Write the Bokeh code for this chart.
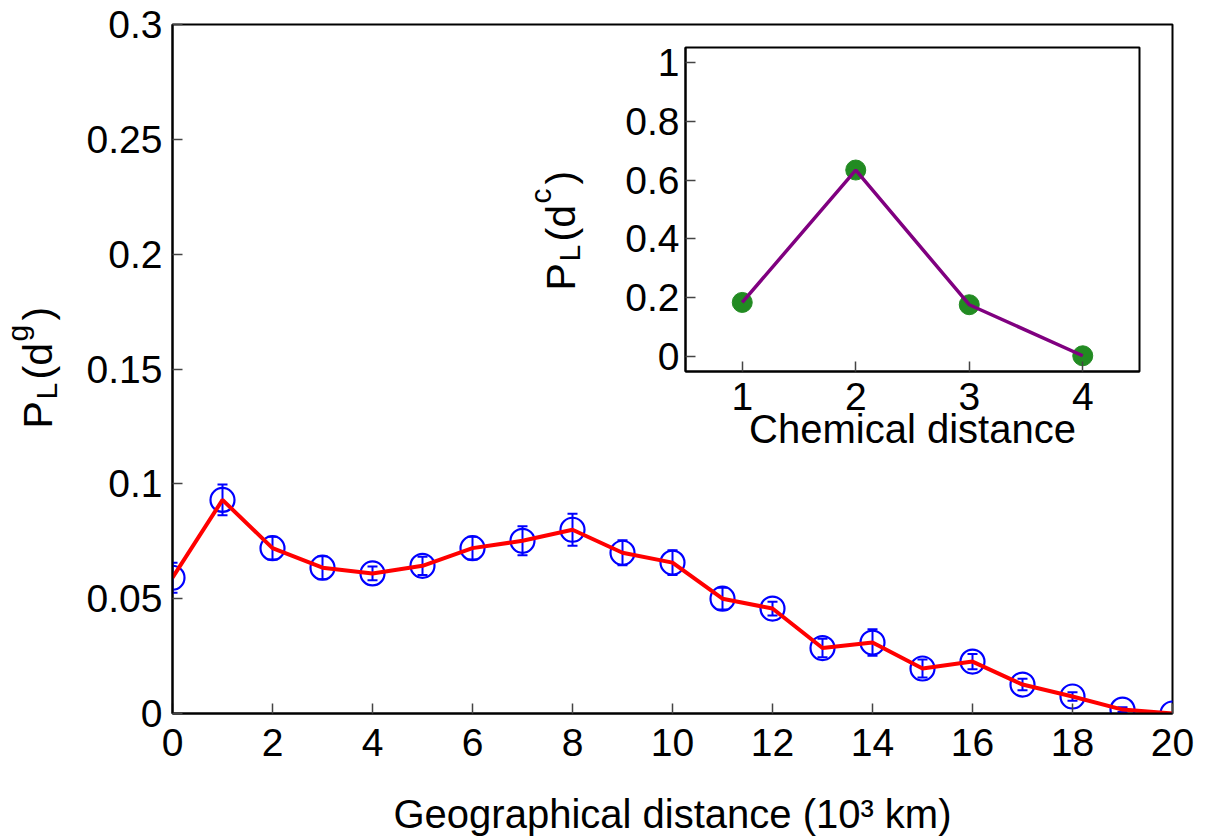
import math
from bokeh.plotting import figure
from bokeh.models import (Range1d, FixedTicker, CustomJSTickFormatter, Whisker,
                          TeeHead, ColumnDataSource)
from bokeh.core.properties import value
from bokeh.layouts import column
from bokeh.embed import file_html
from bokeh.resources import INLINE

# ---------------- data ----------------
geo_dist = list(range(21))
geo_prob = [0.0591, 0.0930, 0.0720, 0.0635, 0.0610, 0.0643, 0.0720, 0.0752,
            0.0800, 0.0700, 0.0657, 0.0500, 0.0457, 0.0285, 0.0309, 0.0196,
            0.0226, 0.0126, 0.0074, 0.0017, 0.0000]
geo_err = [0.0065, 0.0067, 0.0050, 0.0050, 0.0030, 0.0040, 0.0050, 0.0063,
           0.0070, 0.0054, 0.0054, 0.0047, 0.0030, 0.0040, 0.0058, 0.0039,
           0.0033, 0.0025, 0.0018, 0.0010, 0.0000]
x_ticks = list(range(0, 21, 2))
y_ticks = [0, 0.05, 0.1, 0.15, 0.2, 0.25, 0.3]

chem_dist = [1, 2, 3, 4]
chem_prob = [0.1845, 0.634, 0.1767, 0.0034]
chem_x_ticks = [1, 2, 3, 4]
chem_y_ticks = [0, 0.2, 0.4, 0.6, 0.8, 1.0]

FONT = "Liberation Sans"
TICK_FS = "39px"
LAB_FS = "40px"

fmt = CustomJSTickFormatter(code="return String(+tick.toFixed(3));")


def style_axes(fig, tick_standoff_x, tick_standoff_y):
    for ax in list(fig.xaxis) + list(fig.yaxis):
        ax.major_tick_in = 10
        ax.major_tick_out = 0
        ax.minor_tick_in = 0
        ax.minor_tick_out = 0
        ax.axis_line_width = 2
        ax.axis_line_color = "black"
        ax.major_tick_line_color = "#444444"
        ax.major_tick_line_width = 1.5
        ax.major_label_text_font = FONT
        ax.major_label_text_font_size = TICK_FS
        ax.major_label_text_color = "black"
        ax.axis_label_text_font = FONT
        ax.axis_label_text_font_size = LAB_FS
        ax.axis_label_text_font_style = "normal"
        ax.axis_label_text_color = "black"
    fig.xaxis.major_label_standoff = tick_standoff_x
    fig.yaxis.major_label_standoff = tick_standoff_y
    fig.xaxis.formatter = fmt
    fig.yaxis.formatter = fmt
    fig.grid.visible = False
    fig.outline_line_color = "black"
    fig.outline_line_width = 2
    fig.outline_line_alpha = 1


BL, BR = 172, 35   # left/right borders (shared by all stacked figures)

# ---------------- main plot ----------------
p = figure(width=1207, height=838, x_range=Range1d(0, 20), y_range=Range1d(0, 0.3),
           output_backend="svg", toolbar_location=None,
           min_border_left=BL, min_border_right=BR, min_border_top=24,
           min_border_bottom=124)
style_axes(p, 15, 10)
p.xaxis.ticker = FixedTicker(ticks=x_ticks)
p.yaxis.ticker = FixedTicker(ticks=y_ticks)
p.xaxis.axis_label = "Geographical distance (10³ km)"
p.xaxis.axis_label_standoff = 33

src = ColumnDataSource(dict(
    x=geo_dist, y=geo_prob,
    lo=[v - e for v, e in zip(geo_prob, geo_err)],
    hi=[v + e for v, e in zip(geo_prob, geo_err)]))

wh = Whisker(base="x", lower="lo", upper="hi", source=src, level="underlay",
             line_color="blue", line_width=2,
             upper_head=TeeHead(size=10, line_color="blue", line_width=2),
             lower_head=TeeHead(size=10, line_color="blue", line_width=2))
p.add_layout(wh)
p.scatter("x", "y", source=src, marker="circle", size=24, fill_color=None,
          line_color="blue", line_width=2.2)
p.line("x", "y", source=src, line_color="red", line_width=4)

# ---------------- inset ----------------
INS_FRAME_L, INS_FRAME_T, INS_FRAME_W, INS_FRAME_H = 685, 47, 454, 324
INS_TOP_BORDER, INS_BOTTOM_BORDER = 12, 115
ins_h = INS_TOP_BORDER + INS_FRAME_H + INS_BOTTOM_BORDER
ins = figure(width=BL + INS_FRAME_W + BR, height=ins_h,
             x_range=Range1d(0.5, 4.5), y_range=Range1d(-0.05, 1.05),
             output_backend="svg", toolbar_location=None,
             min_border_left=BL, min_border_right=BR,
             min_border_top=INS_TOP_BORDER, min_border_bottom=INS_BOTTOM_BORDER)
style_axes(ins, 11, 6)
ins.border_fill_alpha = 0
ins.background_fill_color = "white"
ins.xaxis.ticker = FixedTicker(ticks=chem_x_ticks)
ins.yaxis.ticker = FixedTicker(ticks=chem_y_ticks)
ins.xaxis.axis_label = "Chemical distance"
ins.xaxis.axis_label_standoff = -6
ins.scatter(chem_dist, chem_prob, marker="circle", size=20,
            fill_color="#228b22", line_color="#228b22")
ins.line(chem_dist, chem_prob, line_color="#800080", line_width=3.5)
ins_top = INS_FRAME_T - INS_TOP_BORDER
ins.margin = (-(838 - ins_top), 0, 0, INS_FRAME_L - BL)

# ---------------- overlay for the rotated y labels ----------------
LAB_W = 600
lab = figure(width=BL + LAB_W + BR, height=838, x_range=Range1d(0, LAB_W),
             y_range=Range1d(838, 0), output_backend="svg", toolbar_location=None,
             x_axis_type=None, y_axis_type=None,
             min_border_left=BL, min_border_right=BR, min_border_top=0,
             min_border_bottom=0)
lab.grid.visible = False
lab.outline_line_color = None
lab.background_fill_alpha = 0
lab.border_fill_alpha = 0
lab.margin = (-(ins_top + ins_h), 0, 0, -BL)


def rot_label(fig, pieces, base_x, start_y):
    """pieces: (text, font px, raise px, advance px) -- text reads bottom to top"""
    cy = start_y
    for text, fs, rise, adv in pieces:
        fig.text(x=[base_x - rise], y=[cy], text=[text], angle=math.pi / 2,
                 text_align="left", text_baseline="alphabetic",
                 text_font=value(FONT), text_font_size=value(f"{fs}px"),
                 text_color="black")
        cy -= adv


def pl_label(sup):
    return [("P", 41, 0, 29), ("L", 30, -9, 20), ("(d", 41, 0, 38),
            (sup, 30, 20, 21 if sup == "g" else 19), (")", 41, 0, 14)]


rot_label(lab, pl_label("g"), 37, 428)
rot_label(lab, pl_label("c"), 560, 290)

layout = column(p, ins, lab)
open("out.html", "w").write(file_html(layout, INLINE))
